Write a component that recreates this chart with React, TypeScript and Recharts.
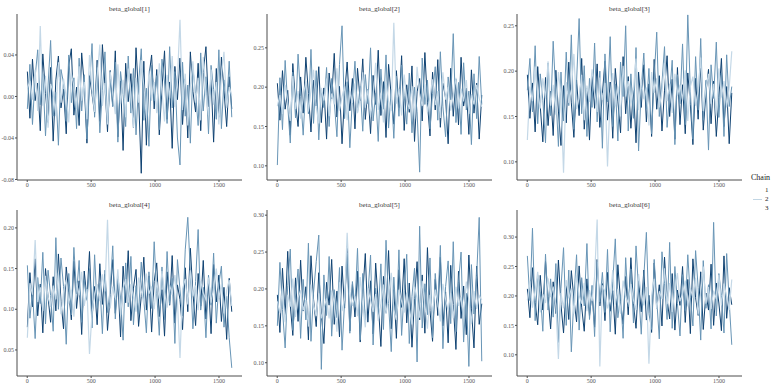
import React from 'react';
import { LineChart, Line, XAxis, YAxis } from 'recharts';

// thinned draws: 80 iterations per chain, spread over 1..1600
const iterations = Array.from({ length: 80 }, (_, i) => 1 + Math.round((i * 1599) / 79));
const xTicks = [0, 500, 1000, 1500];
const chainLabels = ['1', '2', '3'];

// beta_global[1]
const b1c1 = [
  0.008, 0.015, -0.003, 0.026, -0.014, 0.068, -0.009, 0.020, -0.030, 0.012,
  0.004, -0.019, 0.033, -0.006, 0.017, 0.000, -0.025, 0.022, 0.010, -0.012,
  0.029, -0.004, 0.014, -0.022, 0.040, 0.006, -0.015, 0.019, 0.050, -0.009,
  0.013, -0.027, 0.024, 0.003, -0.017, 0.031, -0.007, 0.016, -0.020, 0.027,
  0.001, -0.030, 0.018, -0.006, 0.035, 0.011, -0.021, 0.025, -0.004, 0.014,
  -0.016, 0.032, 0.005, -0.024, 0.021, -0.002, 0.039, -0.010, 0.017, 0.074,
  -0.013, 0.022, -0.028, 0.010, 0.034, -0.006, 0.018, -0.023, 0.038, 0.002,
  -0.018, 0.026, -0.008, 0.014, -0.027, 0.020, 0.043, -0.011, 0.009, 0.001,
];
const b1c2 = [
  -0.012, 0.031, -0.027, 0.019, 0.045, -0.008, 0.022, -0.038, 0.011, 0.054,
  -0.019, 0.004, -0.047, 0.026, 0.013, -0.024, 0.040, -0.006, 0.018, -0.031,
  0.037, -0.014, 0.021, -0.041, 0.009, 0.051, -0.020, 0.028, -0.035, 0.006,
  0.043, -0.026, 0.014, -0.010, 0.033, -0.044, 0.024, 0.002, -0.029, 0.039,
  -0.016, 0.027, -0.037, 0.012, 0.046, -0.023, 0.008, -0.048, 0.030, -0.004,
  0.020, -0.032, 0.036, 0.014, -0.026, 0.048, -0.011, 0.024, -0.040, -0.066,
  0.033, -0.019, 0.011, -0.045, 0.027, 0.003, -0.028, 0.042, -0.014, 0.019,
  -0.036, 0.030, 0.007, -0.022, 0.045, -0.031, 0.016, -0.008, 0.034, -0.020,
];
const b1c3 = [
  0.024, -0.021, 0.036, -0.004, 0.013, -0.033, 0.041, 0.003, -0.025, 0.028,
  -0.043, 0.016, 0.039, -0.011, 0.007, -0.036, 0.030, 0.046, -0.018, 0.009,
  -0.028, 0.042, 0.012, -0.045, 0.020, 0.002, -0.016, 0.035, -0.024, 0.050,
  0.010, -0.034, 0.025, -0.009, 0.044, -0.039, 0.015, -0.052, 0.032, -0.005,
  0.022, -0.030, 0.047, 0.001, -0.074, 0.034, -0.047, 0.019, 0.040, -0.012,
  0.026, -0.037, 0.008, 0.044, -0.022, 0.014, -0.050, 0.029, -0.003, 0.037,
  -0.027, 0.017, -0.040, 0.043, 0.005, -0.015, 0.032, -0.033, 0.023, 0.048,
  -0.010, 0.018, -0.044, 0.027, -0.020, 0.038, 0.006, -0.029, 0.019, -0.012,
];

// beta_global[2]
const b2c1 = [
  0.176, 0.190, 0.166, 0.203, 0.181, 0.157, 0.214, 0.172, 0.195, 0.160,
  0.187, 0.208, 0.169, 0.196, 0.222, 0.175, 0.154, 0.199, 0.183, 0.211,
  0.163, 0.192, 0.178, 0.224, 0.170, 0.188, 0.201, 0.158, 0.194, 0.180,
  0.205, 0.167, 0.186, 0.219, 0.174, 0.197, 0.162, 0.189, 0.231, 0.171,
  0.193, 0.155, 0.207, 0.182, 0.170, 0.282, 0.179, 0.198, 0.164, 0.216,
  0.185, 0.172, 0.201, 0.160, 0.226, 0.191, 0.176, 0.204, 0.168, 0.188,
  0.210, 0.177, 0.195, 0.161, 0.219, 0.184, 0.200, 0.170, 0.189, 0.212,
  0.173, 0.198, 0.182, 0.209, 0.166, 0.191, 0.178, 0.203, 0.186, 0.175,
];
const b2c2 = [
  0.101, 0.212, 0.146, 0.234, 0.177, 0.129, 0.219, 0.161, 0.242, 0.188,
  0.139, 0.203, 0.166, 0.248, 0.154, 0.221, 0.133, 0.196, 0.174, 0.225,
  0.150, 0.211, 0.182, 0.137, 0.229, 0.278, 0.160, 0.207, 0.123, 0.186,
  0.233, 0.168, 0.201, 0.144, 0.216, 0.179, 0.250, 0.157, 0.192, 0.131,
  0.223, 0.172, 0.241, 0.148, 0.197, 0.135, 0.214, 0.163, 0.228, 0.189,
  0.153, 0.218, 0.142, 0.200, 0.169, 0.092, 0.237, 0.178, 0.209, 0.147,
  0.192, 0.226, 0.158, 0.245, 0.175, 0.137, 0.213, 0.184, 0.268, 0.155,
  0.206, 0.140, 0.231, 0.171, 0.195, 0.127, 0.217, 0.160, 0.239, 0.178,
];
const b2c3 = [
  0.205, 0.158, 0.221, 0.172, 0.196, 0.139, 0.230, 0.181, 0.150, 0.213,
  0.167, 0.238, 0.192, 0.143, 0.209, 0.176, 0.226, 0.155, 0.199, 0.134,
  0.218, 0.185, 0.243, 0.162, 0.201, 0.128, 0.190, 0.232, 0.170, 0.211,
  0.147, 0.224, 0.183, 0.236, 0.159, 0.197, 0.141, 0.215, 0.178, 0.247,
  0.164, 0.207, 0.136, 0.229, 0.188, 0.153, 0.221, 0.174, 0.240, 0.145,
  0.203, 0.168, 0.227, 0.131, 0.194, 0.211, 0.157, 0.244, 0.180, 0.138,
  0.219, 0.171, 0.235, 0.149, 0.205, 0.186, 0.128, 0.224, 0.163, 0.210,
  0.152, 0.238, 0.176, 0.199, 0.140, 0.222, 0.167, 0.205, 0.134, 0.190,
];

// beta_global[3]
const b3c1 = [
  0.124, 0.183, 0.167, 0.205, 0.176, 0.159, 0.192, 0.170, 0.211, 0.162,
  0.185, 0.152, 0.199, 0.174, 0.088, 0.188, 0.165, 0.180, 0.219, 0.158,
  0.171, 0.196, 0.146, 0.184, 0.166, 0.202, 0.177, 0.155, 0.193, 0.168,
  0.187, 0.095, 0.175, 0.198, 0.161, 0.183, 0.150, 0.206, 0.172, 0.189,
  0.163, 0.180, 0.214, 0.157, 0.191, 0.169, 0.182, 0.140, 0.199, 0.176,
  0.192, 0.160, 0.178, 0.209, 0.167, 0.186, 0.154, 0.197, 0.173, 0.185,
  0.168, 0.201, 0.145, 0.183, 0.194, 0.162, 0.178, 0.215, 0.156, 0.181,
  0.197, 0.164, 0.186, 0.151, 0.203, 0.171, 0.189, 0.160, 0.182, 0.222,
];
const b3c2 = [
  0.179, 0.214, 0.155, 0.228, 0.142, 0.197, 0.168, 0.121, 0.209, 0.151,
  0.233, 0.174, 0.117, 0.199, 0.145, 0.221, 0.162, 0.240, 0.136, 0.188,
  0.258, 0.153, 0.206, 0.128, 0.192, 0.160, 0.231, 0.144, 0.200, 0.115,
  0.219, 0.166, 0.238, 0.139, 0.186, 0.123, 0.210, 0.172, 0.250, 0.134,
  0.197, 0.148, 0.226, 0.112, 0.181, 0.220, 0.158, 0.203, 0.131, 0.193,
  0.243, 0.150, 0.187, 0.227, 0.138, 0.175, 0.212, 0.119, 0.196, 0.164,
  0.230, 0.141, 0.262, 0.178, 0.125, 0.216, 0.157, 0.236, 0.146, 0.190,
  0.113, 0.207, 0.170, 0.232, 0.149, 0.198, 0.128, 0.218, 0.161, 0.183,
];
const b3c3 = [
  0.196, 0.148, 0.187, 0.133, 0.205, 0.161, 0.122, 0.193, 0.140, 0.178,
  0.129, 0.201, 0.156, 0.118, 0.184, 0.143, 0.210, 0.165, 0.127, 0.190,
  0.151, 0.214, 0.136, 0.181, 0.124, 0.197, 0.159, 0.208, 0.138, 0.175,
  0.211, 0.146, 0.188, 0.126, 0.203, 0.167, 0.132, 0.216, 0.153, 0.194,
  0.137, 0.182, 0.121, 0.199, 0.160, 0.207, 0.144, 0.186, 0.128, 0.213,
  0.158, 0.195, 0.134, 0.179, 0.217, 0.150, 0.191, 0.125, 0.204, 0.141,
  0.185, 0.131, 0.198, 0.163, 0.119, 0.192, 0.147, 0.209, 0.135, 0.176,
  0.202, 0.142, 0.189, 0.128, 0.171, 0.214, 0.139, 0.183, 0.120, 0.176,
];

// beta_global[4]
const b4c1 = [
  0.065, 0.132, 0.118, 0.185, 0.109, 0.127, 0.098, 0.141, 0.115, 0.103,
  0.129, 0.112, 0.145, 0.094, 0.121, 0.136, 0.107, 0.124, 0.091, 0.133,
  0.117, 0.146, 0.104, 0.125, 0.045, 0.096, 0.119, 0.131, 0.110, 0.143,
  0.122, 0.210, 0.101, 0.128, 0.114, 0.149, 0.093, 0.126, 0.137, 0.108,
  0.131, 0.116, 0.097, 0.139, 0.123, 0.106, 0.144, 0.119, 0.128, 0.100,
  0.134, 0.113, 0.147, 0.121, 0.102, 0.130, 0.118, 0.142, 0.111, 0.040,
  0.125, 0.137, 0.106, 0.148, 0.116, 0.129, 0.099, 0.135, 0.120, 0.112,
  0.139, 0.108, 0.127, 0.150, 0.114, 0.131, 0.095, 0.123, 0.136, 0.104,
];
const b4c2 = [
  0.154, 0.089, 0.122, 0.064, 0.139, 0.107, 0.170, 0.082, 0.148, 0.117,
  0.073, 0.188, 0.100, 0.163, 0.128, 0.057, 0.144, 0.093, 0.176, 0.119,
  0.160, 0.084, 0.136, 0.111, 0.150, 0.077, 0.167, 0.102, 0.132, 0.070,
  0.148, 0.096, 0.125, 0.178, 0.088, 0.140, 0.114, 0.062, 0.157, 0.103,
  0.165, 0.081, 0.129, 0.094, 0.158, 0.112, 0.071, 0.146, 0.101, 0.183,
  0.119, 0.068, 0.152, 0.087, 0.171, 0.106, 0.138, 0.058, 0.161, 0.124,
  0.092, 0.173, 0.213, 0.146, 0.076, 0.134, 0.198, 0.099, 0.127, 0.065,
  0.142, 0.105, 0.169, 0.083, 0.131, 0.153, 0.078, 0.116, 0.065, 0.028,
];
const b4c3 = [
  0.078, 0.145, 0.103, 0.162, 0.092, 0.131, 0.071, 0.150, 0.115, 0.084,
  0.140, 0.098, 0.168, 0.110, 0.076, 0.152, 0.121, 0.087, 0.159, 0.101,
  0.135, 0.069, 0.147, 0.113, 0.171, 0.090, 0.128, 0.081, 0.156, 0.106,
  0.143, 0.074, 0.118, 0.161, 0.095, 0.137, 0.066, 0.153, 0.108, 0.172,
  0.086, 0.126, 0.149, 0.079, 0.116, 0.164, 0.099, 0.141, 0.072, 0.134,
  0.157, 0.091, 0.124, 0.067, 0.146, 0.105, 0.166, 0.083, 0.130, 0.112,
  0.075, 0.151, 0.097, 0.175, 0.120, 0.080, 0.144, 0.104, 0.160, 0.088,
  0.133, 0.070, 0.155, 0.109, 0.142, 0.085, 0.127, 0.063, 0.138, 0.097,
];

// beta_global[5]
const b5c1 = [
  0.183, 0.167, 0.201, 0.155, 0.192, 0.176, 0.214, 0.162, 0.188, 0.198,
  0.171, 0.185, 0.149, 0.206, 0.179, 0.163, 0.194, 0.160, 0.174, 0.187,
  0.160, 0.198, 0.181, 0.142, 0.209, 0.170, 0.186, 0.276, 0.196, 0.177,
  0.190, 0.163, 0.216, 0.178, 0.148, 0.201, 0.184, 0.169, 0.193, 0.157,
  0.180, 0.206, 0.166, 0.191, 0.222, 0.172, 0.158, 0.199, 0.183, 0.168,
  0.195, 0.174, 0.152, 0.203, 0.187, 0.161, 0.211, 0.179, 0.146, 0.192,
  0.168, 0.199, 0.181, 0.156, 0.207, 0.186, 0.171, 0.194, 0.160, 0.203,
  0.177, 0.189, 0.165, 0.210, 0.184, 0.153, 0.197, 0.173, 0.191, 0.185,
];
const b5c2 = [
  0.150, 0.236, 0.172, 0.120, 0.205, 0.254, 0.144, 0.189, 0.227, 0.133,
  0.213, 0.158, 0.262, 0.129, 0.195, 0.237, 0.273, 0.091, 0.219, 0.164,
  0.244, 0.136, 0.199, 0.161, 0.229, 0.117, 0.183, 0.249, 0.140, 0.210,
  0.175, 0.255, 0.131, 0.221, 0.157, 0.192, 0.246, 0.124, 0.201, 0.167,
  0.234, 0.145, 0.266, 0.180, 0.115, 0.216, 0.159, 0.253, 0.137, 0.198,
  0.247, 0.126, 0.190, 0.228, 0.101, 0.285, 0.147, 0.207, 0.165, 0.242,
  0.134, 0.221, 0.176, 0.259, 0.119, 0.203, 0.238, 0.153, 0.264, 0.142,
  0.209, 0.250, 0.128, 0.194, 0.095, 0.233, 0.166, 0.218, 0.297, 0.102,
];
const b5c3 = [
  0.192, 0.141, 0.228, 0.163, 0.251, 0.178, 0.137, 0.215, 0.156, 0.239,
  0.170, 0.203, 0.131, 0.245, 0.186, 0.149, 0.222, 0.166, 0.126, 0.209,
  0.178, 0.240, 0.152, 0.197, 0.135, 0.231, 0.174, 0.258, 0.143, 0.206,
  0.162, 0.224, 0.128, 0.193, 0.248, 0.155, 0.211, 0.139, 0.235, 0.181,
  0.122, 0.217, 0.168, 0.252, 0.146, 0.199, 0.133, 0.226, 0.175, 0.241,
  0.154, 0.208, 0.121, 0.187, 0.237, 0.158, 0.219, 0.140, 0.256, 0.171,
  0.129, 0.213, 0.164, 0.243, 0.150, 0.196, 0.127, 0.232, 0.179, 0.118,
  0.224, 0.160, 0.204, 0.138, 0.246, 0.173, 0.120, 0.231, 0.152, 0.180,
];

// beta_global[6]
const b6c1 = [
  0.193, 0.225, 0.180, 0.209, 0.241, 0.172, 0.203, 0.188, 0.230, 0.198,
  0.216, 0.184, 0.093, 0.205, 0.179, 0.227, 0.196, 0.213, 0.170, 0.235,
  0.201, 0.187, 0.222, 0.174, 0.210, 0.191, 0.233, 0.330, 0.080, 0.218,
  0.207, 0.179, 0.196, 0.244, 0.185, 0.212, 0.170, 0.226, 0.199, 0.188,
  0.220, 0.193, 0.176, 0.237, 0.204, 0.184, 0.215, 0.085, 0.201, 0.229,
  0.178, 0.208, 0.195, 0.247, 0.186, 0.222, 0.173, 0.210, 0.239, 0.191,
  0.204, 0.226, 0.182, 0.213, 0.197, 0.231, 0.168, 0.206, 0.250, 0.187,
  0.215, 0.178, 0.209, 0.195, 0.236, 0.184, 0.221, 0.199, 0.176, 0.228,
];
const b6c2 = [
  0.268, 0.192, 0.315, 0.158, 0.236, 0.207, 0.140, 0.271, 0.176, 0.229,
  0.164, 0.255, 0.121, 0.213, 0.282, 0.150, 0.244, 0.105, 0.197, 0.270,
  0.142, 0.231, 0.183, 0.289, 0.160, 0.218, 0.131, 0.258, 0.190, 0.240,
  0.172, 0.279, 0.139, 0.224, 0.297, 0.163, 0.201, 0.128, 0.265, 0.182,
  0.246, 0.154, 0.285, 0.210, 0.135, 0.232, 0.308, 0.170, 0.143, 0.262,
  0.194, 0.127, 0.275, 0.221, 0.160, 0.291, 0.145, 0.250, 0.187, 0.132,
  0.236, 0.175, 0.270, 0.198, 0.149, 0.277, 0.214, 0.125, 0.260, 0.179,
  0.219, 0.144, 0.325, 0.166, 0.238, 0.201, 0.137, 0.272, 0.190, 0.117,
];
const b6c3 = [
  0.212, 0.163, 0.248, 0.189, 0.151, 0.235, 0.176, 0.259, 0.199, 0.144,
  0.224, 0.170, 0.261, 0.185, 0.137, 0.218, 0.160, 0.243, 0.195, 0.156,
  0.251, 0.181, 0.140, 0.229, 0.166, 0.206, 0.147, 0.262, 0.183, 0.221,
  0.158, 0.240, 0.174, 0.209, 0.135, 0.253, 0.191, 0.152, 0.233, 0.168,
  0.265, 0.187, 0.145, 0.226, 0.173, 0.244, 0.159, 0.201, 0.138, 0.256,
  0.178, 0.219, 0.149, 0.266, 0.194, 0.161, 0.238, 0.142, 0.210, 0.184,
  0.250, 0.155, 0.228, 0.136, 0.263, 0.197, 0.167, 0.241, 0.143, 0.205,
  0.176, 0.254, 0.150, 0.222, 0.188, 0.141, 0.268, 0.162, 0.214, 0.185,
];

const panels = [
  { title: 'beta_global[1]', chains: [b1c1, b1c2, b1c3], domain: [-0.0805, 0.0795], ticks: [-0.08, -0.04, 0, 0.04] },
  { title: 'beta_global[2]', chains: [b2c1, b2c2, b2c3], domain: [0.082, 0.293], ticks: [0.1, 0.15, 0.2, 0.25] },
  { title: 'beta_global[3]', chains: [b3c1, b3c2, b3c3], domain: [0.08, 0.263], ticks: [0.1, 0.15, 0.2, 0.25] },
  { title: 'beta_global[4]', chains: [b4c1, b4c2, b4c3], domain: [0.018, 0.222], ticks: [0.05, 0.1, 0.15, 0.2] },
  { title: 'beta_global[5]', chains: [b5c1, b5c2, b5c3], domain: [0.082, 0.307], ticks: [0.1, 0.15, 0.2, 0.25, 0.3] },
  { title: 'beta_global[6]', chains: [b6c1, b6c2, b6c3], domain: [0.064, 0.346], ticks: [0.1, 0.15, 0.2, 0.25, 0.3] },
];

const colors = ['#c4d8e7', '#6895b6', '#0f4272'];
const serif = '"Liberation Serif", "DejaVu Serif", serif';
const tickStyle = { fontSize: 6, fill: '#555', fontFamily: serif };

const TracePanel = ({ panel, left, top }: any) => {
  const rows = iterations.map((it, i) => ({
    it,
    c1: panel.chains[0][i],
    c2: panel.chains[1][i],
    c3: panel.chains[2][i],
  }));
  return (
    <div style={{ position: 'absolute', left, top, width: 250, height: 194 }}>
      <div style={{ position: 'absolute', left: 17, width: 225, top: 5, textAlign: 'center', fontSize: 7, lineHeight: '8px', color: '#333', fontFamily: serif }}>
        {panel.title}
      </div>
      <LineChart width={250} height={194} data={rows} margin={{ top: 14, right: 8, bottom: 2, left: 0 }}>
        <XAxis dataKey="it" type="number" domain={[-80, 1680]} ticks={xTicks} allowDataOverflow
          height={12} tickSize={2} tickMargin={1} tick={tickStyle} stroke="#4d4d4d" />
        <YAxis type="number" domain={panel.domain} ticks={panel.ticks} allowDataOverflow
          width={17} tickSize={2} tickMargin={1} tick={tickStyle} stroke="#4d4d4d"
          tickFormatter={(v: number) => v.toFixed(2)} />
        <Line dataKey="c3" stroke={colors[2]} strokeWidth={1} dot={false} isAnimationActive={false} />
        <Line dataKey="c2" stroke={colors[1]} strokeWidth={1} dot={false} isAnimationActive={false} />
        <Line dataKey="c1" stroke={colors[0]} strokeWidth={1.2} dot={false} isAnimationActive={false} />
      </LineChart>
    </div>
  );
};

export default function App() {
  return (
    <div style={{ position: 'absolute', left: 0, top: 0, width: 775, height: 388, background: '#fff', overflow: 'hidden' }}>
      {panels.map((p, i) => (
        <TracePanel key={p.title} panel={p} left={250 * (i % 3)} top={196 * Math.floor(i / 3)} />
      ))}
      <div style={{ position: 'absolute', left: 751, top: 173, fontSize: 8, lineHeight: '10px', color: '#222', fontFamily: serif }}>Chain</div>
      {chainLabels.map((c, i) => (
        <div key={c} style={{ position: 'absolute', left: 752, top: 186 + i * 9, width: 20, height: 9 }}>
          {i === 1 && <div style={{ position: 'absolute', left: 1, top: 4, width: 9, height: 1, background: '#c2d6e4' }} />}
          <span style={{ position: 'absolute', left: 13, top: 0, fontSize: 7, lineHeight: '9px', color: '#222', fontFamily: serif }}>{c}</span>
        </div>
      ))}
    </div>
  );
}
